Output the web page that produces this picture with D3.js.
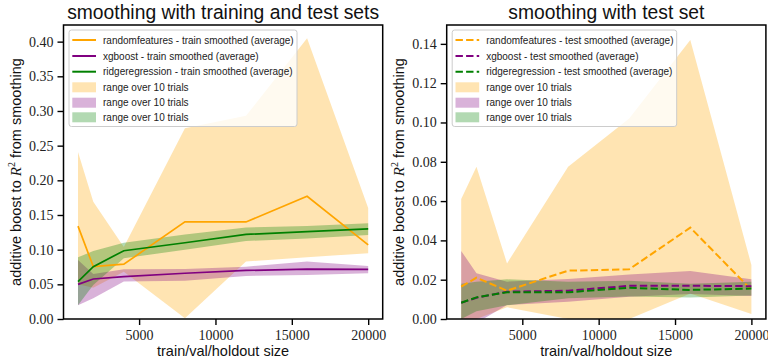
<!DOCTYPE html>
<html><head><meta charset="utf-8">
<script src="https://cdn.jsdelivr.net/npm/d3@7"></script>
<style>
body{margin:0;background:#fff;}
svg{display:block;}
.tick text{font-family:"Liberation Serif",serif;font-size:14px;fill:#222;}
</style></head>
<body><svg id="c" width="768" height="362"></svg>
<script>
const sizes = [1000, 2000, 4000, 8000, 12000, 16000, 20000];
const xTicks = [5000, 10000, 15000, 20000];
const yTicksTrain = [0, 0.05, 0.10, 0.15, 0.20, 0.25, 0.30, 0.35, 0.40];
const yTicksTest = [0, 0.02, 0.04, 0.06, 0.08, 0.10, 0.12, 0.14];
const models = ["randomfeatures", "xgboost", "ridgeregression"];
const colors = ["#FFA500", "#800080", "#008000"];

// train smoothed
const rfTrainMean = [0.134, 0.0755, 0.079, 0.140, 0.140, 0.177, 0.107];
const rfTrainLow  = [0.050, 0.045, 0.068, 0.001, 0.083, 0.089, 0.095];
const rfTrainHigh = [0.241, 0.169, 0.104, 0.275, 0.293, 0.405, 0.160];
const xgbTrainMean = [0.050, 0.0577, 0.061, 0.066, 0.070, 0.072, 0.0717];
const xgbTrainLow  = [0.020, 0.030, 0.054, 0.055, 0.062, 0.0635, 0.066];
const xgbTrainHigh = [0.085, 0.065, 0.0717, 0.072, 0.0755, 0.083, 0.0765];
const ridgeTrainMean = [0.054, 0.0755, 0.0985, 0.110, 0.122, 0.126, 0.130];
const ridgeTrainLow  = [0.020, 0.049, 0.0875, 0.100, 0.1125, 0.116, 0.121];
const ridgeTrainHigh = [0.089, 0.098, 0.110, 0.122, 0.132, 0.134, 0.138];

// test smoothed
const rfTestMean = [0.0165, 0.021, 0.0144, 0.0246, 0.0253, 0.0465, 0.0148];
const rfTestLow  = [-0.005, 0.0, 0.006, 0.0, 0.0, 0.013, 0.0025];
const rfTestHigh = [0.061, 0.0775, 0.0283, 0.0775, 0.102, 0.142, 0.0275];
const xgbTestMean = [0.0083, 0.0108, 0.0139, 0.0144, 0.0169, 0.0169, 0.0167];
const xgbTestLow  = [-0.005, -0.002, 0.0071, 0.0088, 0.0113, 0.0127, 0.0117];
const xgbTestHigh = [0.0346, 0.0233, 0.019, 0.0204, 0.0227, 0.0244, 0.0202];
const ridgeTestMean = [0.0083, 0.011, 0.0136, 0.0136, 0.0159, 0.0148, 0.0155];
const ridgeTestLow  = [0.0, 0.004, 0.007, 0.0105, 0.0115, 0.011, 0.012];
const ridgeTestHigh = [0.018, 0.019, 0.0202, 0.019, 0.0195, 0.018, 0.019];

const svg = d3.select("#c");

function panel(opts){
  const {left, right, top, bottom, yMax, yTicks, title, means, lows, highs, kind, dashed, legendW, id} = opts;
  const x = d3.scaleLinear().domain([50, 20950]).range([left, right]);
  const y = d3.scaleLinear().domain([0, yMax]).range([bottom, top]);
  const g = svg.append("g");
  g.append("clipPath").attr("id", id).append("rect")
    .attr("x", left).attr("y", top).attr("width", right-left).attr("height", bottom-top);
  const plot = g.append("g").attr("clip-path", `url(#${id})`);
  const area = d3.area().x((d,i)=>x(sizes[i])).y0(d=>y(d[0])).y1(d=>y(d[1]));
  const line = d3.line().x((d,i)=>x(sizes[i])).y(d=>y(d));
  for (let m=0;m<3;m++){
    plot.append("path").datum(lows[m].map((v,i)=>[v, highs[m][i]]))
      .attr("d", area).attr("fill", colors[m]).attr("fill-opacity", 0.3).attr("stroke","none");
  }
  for (let m=0;m<3;m++){
    plot.append("path").datum(means[m]).attr("d", line)
      .attr("fill","none").attr("stroke", colors[m]).attr("stroke-width", dashed?2:1.7)
      .attr("stroke-dasharray", dashed ? "7.4,3.2" : null);
  }
  // axes
  const xa = g.append("g").attr("transform", `translate(0,${bottom})`)
    .call(d3.axisBottom(x).tickValues(xTicks).tickSize(6).tickPadding(4).tickFormat(d3.format("d")));
  const ya = g.append("g").attr("transform", `translate(${left},0)`)
    .call(d3.axisLeft(y).tickValues(yTicks).tickSize(6).tickPadding(4).tickFormat(d3.format(".2f")));
  [xa, ya].forEach(a=>{ a.select(".domain").remove(); a.selectAll(".tick line").attr("stroke","#000").attr("stroke-width",1.4); });
  xa.selectAll(".tick text").attr("dy","0.75em").attr("y", 10);
  g.append("rect").attr("x", left).attr("y", top).attr("width", right-left).attr("height", bottom-top)
    .attr("fill","none").attr("stroke","#000").attr("stroke-width",1.5);
  // title
  g.append("text").attr("x",(left+right)/2).attr("y",19).attr("text-anchor","middle")
    .attr("font-family","Liberation Sans, sans-serif").attr("font-size",19.3).attr("fill","#111").text(title);
  g.append("text").attr("x",(left+right)/2).attr("y",356).attr("text-anchor","middle")
    .attr("font-family","Liberation Sans, sans-serif").attr("font-size",14.5).attr("fill","#111").text("train/val/holdout size");
  const yl = g.append("text").attr("transform",`translate(${left-43},${(top+bottom)/2}) rotate(-90)`)
    .attr("text-anchor","middle").attr("font-family","Liberation Sans, sans-serif").attr("font-size",14.5).attr("fill","#111");
  yl.append("tspan").text("additive boost to ");
  yl.append("tspan").attr("font-family","Liberation Serif, serif").attr("font-style","italic").attr("font-size",15).text("R");
  yl.append("tspan").attr("font-family","Liberation Serif, serif").attr("font-size",10).attr("dy",-6).text("2");
  yl.append("tspan").attr("dy",6).text(" from smoothing");
  // legend
  const lx = left+5.5, ly = top+5;
  const lg = g.append("g");
  lg.append("rect").attr("x",lx).attr("y",ly).attr("width",legendW).attr("height",96.5).attr("rx",2.5)
    .attr("fill","#fff").attr("fill-opacity",0.8).attr("stroke","#ccc").attr("stroke-width",1);
  const rows = [40,56,71.7,87.3,102.7,117.3];
  const hx0 = lx+3.3, hx1 = lx+27, tx = lx+34;
  for (let m=0;m<3;m++){
    lg.append("line").attr("x1",hx0).attr("x2",hx1).attr("y1",rows[m]).attr("y2",rows[m])
      .attr("stroke",colors[m]).attr("stroke-width", 2).attr("stroke-dasharray", dashed ? "7.4,3.2" : null);
    lg.append("text").attr("x",tx).attr("y",rows[m]+3.5).attr("font-family","Liberation Sans, sans-serif")
      .attr("font-size",10).attr("fill","#222").text(`${models[m]} - ${kind} smoothed (average)`);
  }
  for (let m=0;m<3;m++){
    const r = rows[m+3];
    lg.append("rect").attr("x",hx0).attr("y",r-5).attr("width",hx1-hx0).attr("height",10)
      .attr("fill",colors[m]).attr("fill-opacity",0.3);
    lg.append("text").attr("x",tx).attr("y",r+3.5).attr("font-family","Liberation Sans, sans-serif")
      .attr("font-size",10).attr("fill","#222").text("range over 10 trials");
  }
}

panel({left:63.5, right:382.7, top:25, bottom:319, yMax:0.424, yTicks:yTicksTrain,
  title:"smoothing with training and test sets",
  means:[rfTrainMean, xgbTrainMean, ridgeTrainMean], lows:[rfTrainLow, xgbTrainLow, ridgeTrainLow],
  highs:[rfTrainHigh, xgbTrainHigh, ridgeTrainHigh], kind:"train", dashed:false, legendW:228, id:"clipA"});
panel({left:446.7, right:765.9, top:25, bottom:319, yMax:0.1496, yTicks:yTicksTest,
  title:"smoothing with test set",
  means:[rfTestMean, xgbTestMean, ridgeTestMean], lows:[rfTestLow, xgbTestLow, ridgeTestLow],
  highs:[rfTestHigh, xgbTestHigh, ridgeTestHigh], kind:"test", dashed:true, legendW:224.5, id:"clipB"});
</script></body></html>
